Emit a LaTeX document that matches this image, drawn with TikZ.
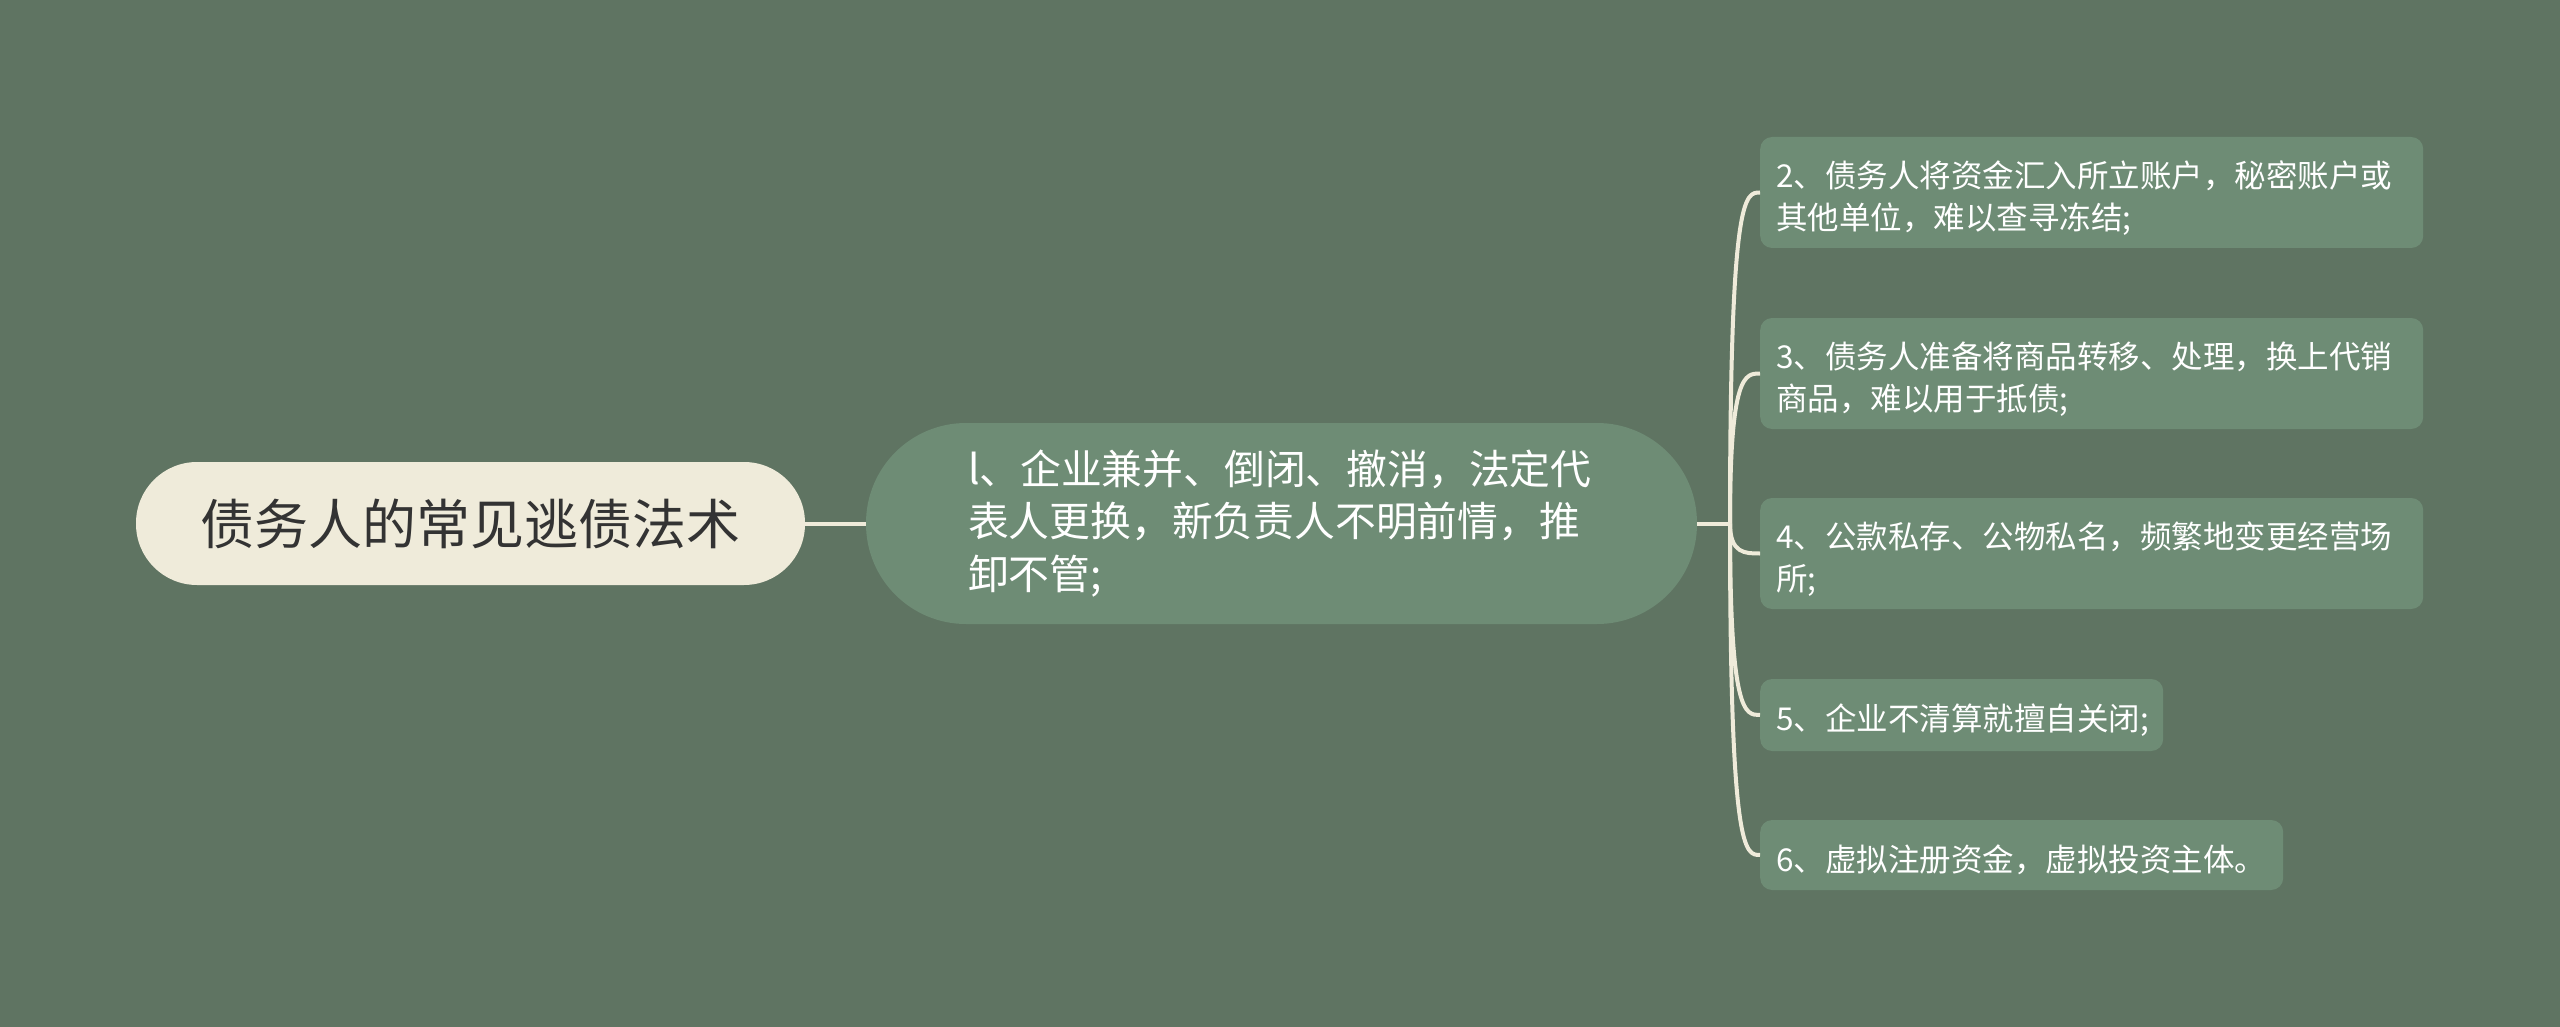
\documentclass[tikz,border=0pt]{standalone}
\usepackage{fontspec}
\setmainfont{Noto Sans CJK SC}
\definecolor{bgc}{HTML}{5F7462}
\definecolor{nodec}{HTML}{6E8C75}
\definecolor{creamc}{HTML}{EFEBDA}
\definecolor{darkt}{HTML}{333333}
\begin{document}
\begin{tikzpicture}[x=1pt,y=-1pt,
  rootbox/.style={fill=creamc, rounded corners=61pt, minimum width=669pt, minimum height=123pt,
    text=darkt, font=\fontsize{54}{60}\selectfont, inner sep=0pt},
  mainbox/.style={fill=nodec, rounded corners=100pt, minimum height=201pt, inner xsep=102pt,
    text width=627pt, align=left, text=white, font=\fontsize{40.8}{52.5}\selectfont, inner ysep=0pt},
  leafbox/.style={fill=nodec, rounded corners=12pt, inner xsep=16pt, inner ysep=0pt, align=left,
    text=white, font=\fontsize{31.5}{42}\selectfont, anchor=west,
    execute at begin node={\rule{0pt}{37pt}}},
  link/.style={draw=creamc, line width=4pt}
]
\useasboundingbox (0,0) rectangle (2560,1027);
\fill[bgc] (0,0) rectangle (2560,1027);

\node[rootbox] (root) at (470.5,523.5) {债务人的常见逃债法术};
\node[mainbox] (main) at (1281.5,523.5) {l、企业兼并、倒闭、撤消，法定代\\表人更换，新负责人不明前情，推\\卸不管;};

\node[leafbox, text width=631pt, minimum height=111pt] (c2) at (1760,192.5) {2、债务人将资金汇入所立账户，秘密账户或\\其他单位，难以查寻冻结;};
\node[leafbox, text width=631pt, minimum height=111pt] (c3) at (1760,373.5) {3、债务人准备将商品转移、处理，换上代销\\商品，难以用于抵债;};
\node[leafbox, text width=631pt, minimum height=111pt] (c4) at (1760,553.5) {4、公款私存、公物私名，频繁地变更经营场\\所;};
\node[leafbox, text width=371pt, minimum height=72pt] (c5) at (1760,715) {5、企业不清算就擅自关闭;};
\node[leafbox, text width=491pt, minimum height=70pt] (c6) at (1760,855) {6、虚拟注册资金，虚拟投资主体。};

\draw[link] (root.east) -- (main.west);
\coordinate (hub) at (1730,523.5);
\draw[link] (main.east) -- (hub);
\foreach \c in {c2,c3,c4,c5,c6}{
  \draw[link] (hub) .. controls (hub |- \c.west) and ([xshift=-15pt]\c.west) .. (\c.west);
}
\end{tikzpicture}
\end{document}
